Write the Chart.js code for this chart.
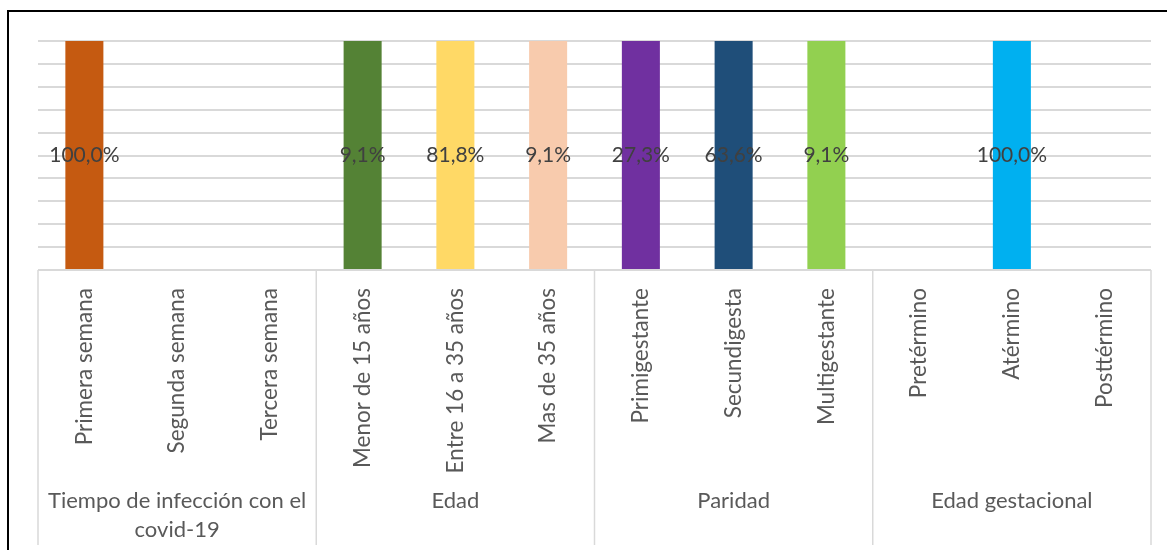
<!DOCTYPE html>
<html>
<head>
<meta charset="utf-8">
<script src="https://cdn.jsdelivr.net/npm/chart.js@4"></script>
<style>
  body { margin: 0; background: #fff; }
</style>
</head>
<body>
<canvas id="chart" width="1167" height="550"></canvas>
<script>
const categories = [
    'Primera semana', 'Segunda semana', 'Tercera semana',
    'Menor de 15 años', 'Entre 16 a 35 años', 'Mas de 35 años',
    'Primigestante', 'Secundigesta', 'Multigestante',
    'Pretérmino', 'Atérmino', 'Posttérmino'
]
const values = [1.0, 0, 0, 0.091, 0.818, 0.091, 0.273, 0.636, 0.091, 0, 1.0, 0]
const barColors = [
    '#C55A11', '#C55A11', '#C55A11',
    '#548235', '#FFD966', '#F8CBAD',
    '#7030A0', '#1F4E79', '#92D050',
    '#00B0F0', '#00B0F0', '#00B0F0'
]
const groupLabels = [['Tiempo de infección con el', 'covid-19'], ['Edad'], ['Paridad'], ['Edad gestacional']]
const groupSizes = [3, 3, 3, 3]

const fontFamily = 'Lato'
const gridColor = '#D9D9D9'

const frame = {
    id: 'frame',
    afterDraw(chart) {
        const ctx = chart.ctx
        ctx.save()
        ctx.strokeStyle = '#000'
        ctx.lineWidth = 2
        ctx.beginPath()
        ctx.moveTo(1167, 11)
        ctx.lineTo(8, 11)
        ctx.lineTo(8, 550)
        ctx.stroke()
        ctx.restore()
    }
}

const barLabels = {
    id: 'barLabels',
    afterDatasetsDraw(chart) {
        const ctx = chart.ctx
        const area = chart.chartArea
        const meta = chart.getDatasetMeta(0)
        ctx.save()
        ctx.font = `21px ${fontFamily}`
        ctx.fillStyle = '#404040'
        ctx.textAlign = 'center'
        ctx.textBaseline = 'middle'
        meta.data.forEach((bar, i) => {
            const v = values[i]
            if (!v) return
            const top = Math.max(bar.y, area.top)
            const y = (top + bar.base) / 2
            ctx.fillText((v * 100).toFixed(1).replace('.', ',') + '%', bar.x, y)
        })
        ctx.restore()
    }
}

const groupAxis = {
    id: 'groupAxis',
    afterDraw(chart) {
        const ctx = chart.ctx
        const x = chart.scales.x
        const area = chart.chartArea
        const catW = x.width / categories.length
        ctx.save()
        ctx.strokeStyle = gridColor
        ctx.lineWidth = 1.5
        let start = 0
        const edges = [x.getPixelForValue(0) - catW / 2]
        groupSizes.forEach(n => {
            start += n
            edges.push(x.getPixelForValue(start - 1) + catW / 2)
        })
        edges.forEach(px => {
            ctx.beginPath()
            ctx.moveTo(px, area.bottom)
            ctx.lineTo(px, 545)
            ctx.stroke()
        })
        ctx.font = `22px ${fontFamily}`
        ctx.fillStyle = '#595959'
        ctx.textAlign = 'center'
        ctx.textBaseline = 'middle'
        groupLabels.forEach((lines, g) => {
            const cx = (edges[g] + edges[g + 1]) / 2
            lines.forEach((line, k) => {
                ctx.fillText(line, cx, 501 + k * 29)
            })
        })
        ctx.restore()
    }
}

new Chart(document.getElementById('chart').getContext('2d'), {
    type: 'bar',
    data: {
        labels: categories,
        datasets: [{
            data: values,
            backgroundColor: barColors,
            categoryPercentage: 1,
            barPercentage: 0.41,
            clip: 0
        }]
    },
    options: {
        responsive: false,
        animation: false,
        events: [],
        layout: { padding: { top: 41, left: 38, right: 16, bottom: 0 } },
        plugins: {
            legend: { display: false },
            tooltip: { enabled: false }
        },
        scales: {
            x: {
                grid: { display: false, drawTicks: false },
                border: { display: false },
                ticks: {
                    autoSkip: false,
                    minRotation: 90,
                    maxRotation: 90,
                    padding: 18,
                    color: '#595959',
                    font: { family: fontFamily, size: 22.5 }
                },
                afterFit(scale) { scale.height = 280 }
            },
            y: {
                min: 0,
                max: 0.05,
                ticks: { display: false, stepSize: 0.005 },
                grid: { color: gridColor, lineWidth: 2, drawTicks: false },
                border: { display: false },
                afterFit(scale) { scale.width = 0 }
            }
        }
    },
    plugins: [frame, barLabels, groupAxis]
})
</script>
</body>
</html>
